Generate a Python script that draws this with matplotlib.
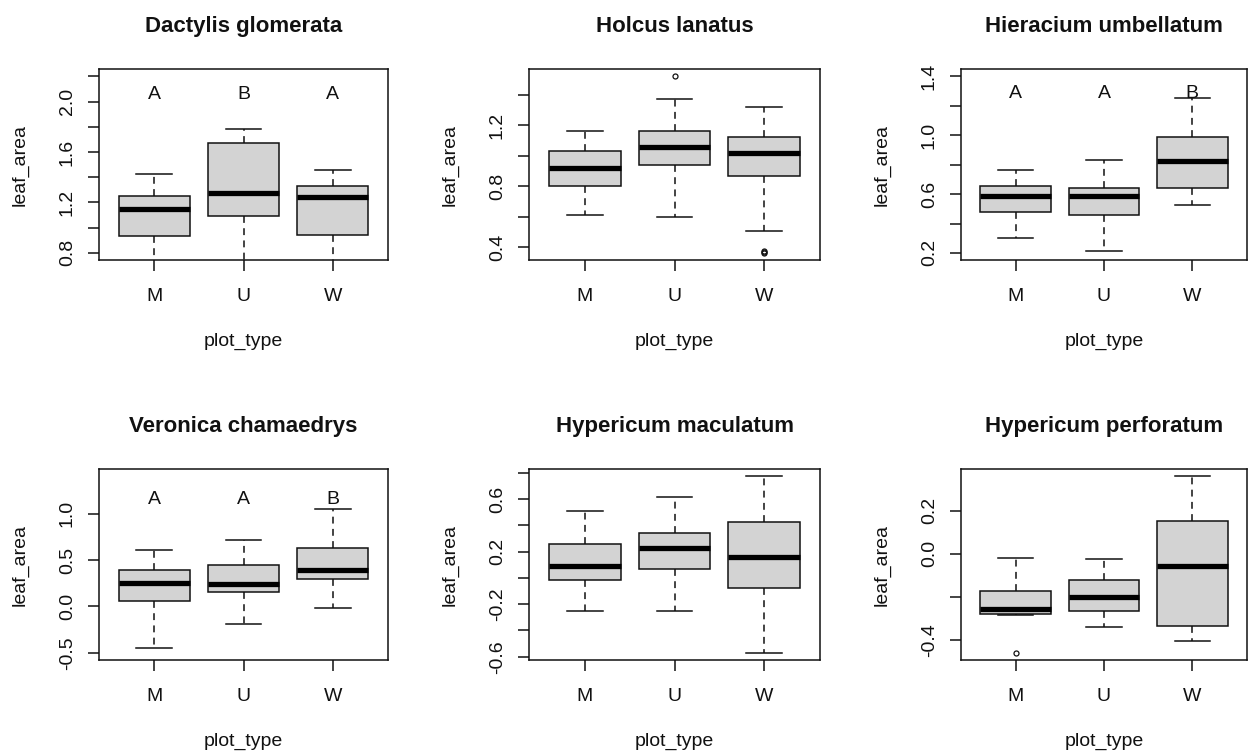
import matplotlib
matplotlib.use("Agg")
import matplotlib.pyplot as plt

plt.rcParams["font.family"] = ["Liberation Sans", "DejaVu Sans"]

# ---- data -------------------------------------------------------------
species = [
    "Dactylis glomerata", "Holcus lanatus", "Hieracium umbellatum",
    "Veronica chamaedrys", "Hypericum maculatum", "Hypericum perforatum",
]
plot_types = ["M", "U", "W"]

whisker_low = [
    [0.600, 0.620, 0.620],
    [0.614, 0.601, 0.509],
    [0.300, 0.216, 0.524],
    [-0.449, -0.194, -0.018],
    [-0.251, -0.251, -0.571],
    [-0.285, -0.342, -0.407],
]
quartile_1 = [
    [0.932, 1.095, 0.942],
    [0.804, 0.936, 0.866],
    [0.477, 0.459, 0.638],
    [0.054, 0.154, 0.291],
    [-0.018, 0.071, -0.074],
    [-0.281, -0.267, -0.336],
]
medians = [
    [1.150, 1.274, 1.240],
    [0.920, 1.056, 1.019],
    [0.585, 0.585, 0.828],
    [0.255, 0.240, 0.388],
    [0.089, 0.226, 0.162],
    [-0.256, -0.199, -0.059],
]
quartile_3 = [
    [1.255, 1.668, 1.329],
    [1.030, 1.165, 1.121],
    [0.654, 0.644, 0.987],
    [0.395, 0.449, 0.628],
    [0.261, 0.345, 0.429],
    [-0.171, -0.120, 0.154],
]
whisker_high = [
    [1.426, 1.782, 1.460],
    [1.165, 1.373, 1.320],
    [0.767, 0.833, 1.252],
    [0.603, 0.718, 1.044],
    [0.510, 0.616, 0.774],
    [-0.019, -0.025, 0.361],
]
outliers = [
    [[], [], []],
    [[], [1.521], [0.362, 0.368, 0.375]],
    [[], [], []],
    [[], [], []],
    [[], [], []],
    [[-0.462], [], []],
]
# Tukey group letters (None where no letters are shown)
group_letters = [["A", "B", "A"], None, ["A", "A", "B"], ["A", "A", "B"], None, None]

# explicit y limits (None -> data range)
y_limits = [(0.8, 2.2), None, (0.2, 1.4), (-0.5, 1.4), None, None]

y_ticks = [
    [0.8, 1.0, 1.2, 1.4, 1.6, 1.8, 2.0, 2.2],
    [0.4, 0.6, 0.8, 1.0, 1.2, 1.4],
    [0.2, 0.4, 0.6, 0.8, 1.0, 1.2, 1.4],
    [-0.5, 0.0, 0.5, 1.0],
    [-0.6, -0.4, -0.2, 0.0, 0.2, 0.4, 0.6, 0.8],
    [-0.4, -0.2, 0.0, 0.2],
]
y_tick_labels = [
    ["0.8", "", "1.2", "", "1.6", "", "2.0", ""],
    ["0.4", "", "0.8", "", "1.2", ""],
    ["0.2", "", "0.6", "", "1.0", "", "1.4"],
    ["-0.5", "0.0", "0.5", "1.0"],
    ["-0.6", "", "-0.2", "", "0.2", "", "0.6", ""],
    ["-0.4", "", "0.0", "0.2"],
]

# ---- layout (pixels) -------------------------------------------------
FIG_W, FIG_H = 1250, 754
col_left = [99, 529, 961]
col_width = [289, 291, 286]
row_top = [69.3, 469.3]
AX_H = 190.7
letter_y = [2.02, None, 1.25, 1.105, None, None]

INK = "#111111"
LW = 1.1

fig = plt.figure(figsize=(FIG_W / 100, FIG_H / 100), dpi=100)

for i, name in enumerate(species):
    r, c = divmod(i, 3)
    left, width, top = col_left[c], col_width[c], row_top[r]
    ax = fig.add_axes([left / FIG_W, 1 - (top + AX_H) / FIG_H,
                       width / FIG_W, AX_H / FIG_H])

    stats = []
    for j, pt in enumerate(plot_types):
        stats.append(dict(label=pt,
                          whislo=whisker_low[i][j], q1=quartile_1[i][j],
                          med=medians[i][j], q3=quartile_3[i][j],
                          whishi=whisker_high[i][j], fliers=outliers[i][j]))

    ax.bxp(stats, positions=[1, 2, 3], widths=0.8, capwidths=0.4,
           patch_artist=True,
           boxprops=dict(facecolor="#d3d3d3", edgecolor=INK, linewidth=LW),
           whiskerprops=dict(color=INK, linewidth=LW, linestyle=(0, (4.5, 3.5))),
           capprops=dict(color=INK, linewidth=LW),
           medianprops=dict(color="black", linewidth=3.8, solid_capstyle="butt"),
           flierprops=dict(marker="o", markersize=3.6, markerfacecolor="none",
                           markeredgecolor=INK, markeredgewidth=0.9))

    # y range: R style, 4 % padding around the limits
    if y_limits[i] is not None:
        lo, hi = y_limits[i]
    else:
        vals = whisker_low[i] + whisker_high[i] + [v for f in outliers[i] for v in f]
        lo, hi = min(vals), max(vals)
    pad = 0.04 * (hi - lo)
    ax.set_ylim(lo - pad, hi + pad)
    ax.set_xlim(0.38, 3.62)

    if group_letters[i] is not None:
        for j, letter in enumerate(group_letters[i]):
            ax.text(j + 1, letter_y[i], letter, ha="center", va="baseline",
                    fontsize=14, color=INK)

    ax.set_xticks([1, 2, 3], plot_types)
    ax.set_yticks(y_ticks[i], y_tick_labels[i])
    for lab in ax.get_yticklabels():
        lab.set_rotation(90)
        lab.set_va("center")
    ax.tick_params(axis="both", length=7.7, width=LW, color=INK,
                   labelsize=14, labelcolor=INK)
    ax.tick_params(axis="x", pad=12.5)
    ax.tick_params(axis="y", pad=9.0)
    for sp in ax.spines.values():
        sp.set_linewidth(LW)
        sp.set_color(INK)

    ax.set_title(name, fontsize=16, fontweight="bold", pad=27, color=INK)
    ax.set_xlabel("plot_type", fontsize=14, color=INK)
    ax.xaxis.set_label_coords(0.5, -72.5 / AX_H)
    ax.set_ylabel("leaf_area", fontsize=14, color=INK)
    ax.yaxis.label.set_va("center")
    ax.yaxis.set_label_coords(-79 / width, 0.5)

fig.savefig("out.png", dpi=100, facecolor="white")
